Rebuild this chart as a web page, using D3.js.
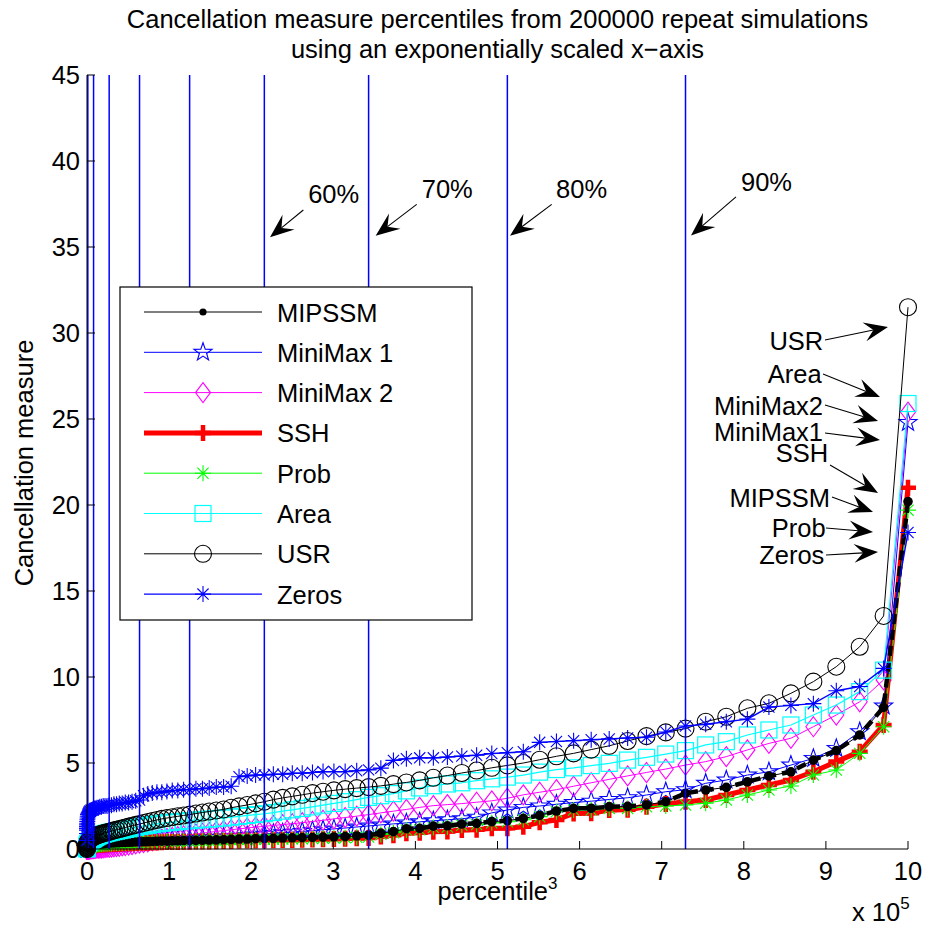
<!DOCTYPE html>
<html>
<head>
<meta charset="utf-8">
<script src="https://cdn.jsdelivr.net/npm/d3@7"></script>
<style>
  body { margin: 0; background: #fff; }
  svg { display: block; }
  text { font-family: "Liberation Sans", Arial, Helvetica, sans-serif; fill: #000; }
</style>
</head>
<body>
<svg id="chart" width="928" height="926"></svg>
<script>
// Percentile index 0..100; plotted against percentile^3 (in units of 10^5)
const percentiles = d3.range(0, 101);

const mipssm = [
  0, 0, 0.02, 0.04, 0.05, 0.07, 0.08, 0.1, 0.1, 0.12,
  0.13, 0.15, 0.15, 0.17, 0.18, 0.2, 0.2, 0.22, 0.23, 0.24,
  0.25, 0.26, 0.27, 0.28, 0.29, 0.3, 0.3, 0.31, 0.32, 0.33,
  0.34, 0.35, 0.35, 0.36, 0.37, 0.38, 0.38, 0.39, 0.4, 0.41,
  0.42, 0.42, 0.43, 0.44, 0.45, 0.46, 0.46, 0.47, 0.48, 0.49,
  0.5, 0.5, 0.51, 0.52, 0.53, 0.54, 0.56, 0.58, 0.58, 0.6,
  0.62, 0.62, 0.64, 0.65, 0.66, 0.67, 0.69, 0.7, 0.72, 0.76,
  0.8, 0.92, 1.01, 1.18, 1.2, 1.33, 1.35, 1.45, 1.49, 1.59,
  1.65, 1.78, 1.95, 2.21, 2.36, 2.37, 2.46, 2.47, 2.56, 2.75,
  3.24, 3.43, 3.58, 3.91, 4.24, 4.49, 5.17, 5.72, 6.63, 8.24, 20.2
];

const miniMax1 = [
  0, 0, 0, 0.01, 0.01, 0.02, 0.02, 0.03, 0.04, 0.05,
  0.06, 0.07, 0.08, 0.09, 0.1, 0.11, 0.12, 0.13, 0.14, 0.15,
  0.16, 0.17, 0.18, 0.19, 0.2, 0.21, 0.22, 0.23, 0.24, 0.25,
  0.26, 0.27, 0.28, 0.29, 0.3, 0.31, 0.32, 0.34, 0.36, 0.38,
  0.4, 0.42, 0.44, 0.46, 0.48, 0.5, 0.52, 0.54, 0.56, 0.58,
  0.6, 0.62, 0.64, 0.66, 0.68, 0.7, 0.72, 0.75, 0.78, 0.82,
  0.86, 0.9, 0.94, 0.98, 1.02, 1.07, 1.12, 1.17, 1.22, 1.28,
  1.34, 1.4, 1.46, 1.52, 1.58, 1.64, 1.7, 1.76, 1.85, 2.1,
  2.27, 2.42, 2.5, 2.6, 2.7, 2.78, 2.88, 2.98, 3.14, 3.33,
  3.45, 3.82, 4.01, 4.3, 4.49, 4.88, 5.27, 5.85, 6.82, 8.31, 24.8
];

const miniMax2 = [
  0, 0, 0, 0, 0, 0, 0, 0, 0, 0,
  0, 0, 0, 0, 0, 0.01, 0.01, 0.02, 0.02, 0.03,
  0.03, 0.04, 0.04, 0.05, 0.05, 0.06, 0.06, 0.07, 0.08, 0.09,
  0.1, 0.11, 0.12, 0.14, 0.16, 0.18, 0.2, 0.23, 0.26, 0.3,
  0.34, 0.38, 0.42, 0.47, 0.52, 0.57, 0.62, 0.67, 0.72, 0.77,
  0.82, 0.87, 0.92, 0.97, 1.02, 1.07, 1.12, 1.17, 1.22, 1.27,
  1.32, 1.37, 1.42, 1.47, 1.53, 1.6, 1.67, 1.75, 1.83, 1.91,
  2.0, 2.1, 2.2, 2.3, 2.42, 2.52, 2.58, 2.64, 2.72, 2.8,
  2.95, 3.15, 3.3, 3.45, 3.65, 3.85, 4.05, 4.25, 4.45, 4.65,
  4.88, 5.08, 5.37, 5.76, 6.14, 6.44, 7.11, 7.79, 8.56, 9.83, 25.4
];

const ssh = [
  0, 0, 0, 0.02, 0.03, 0.05, 0.06, 0.08, 0.08, 0.1,
  0.1, 0.12, 0.13, 0.14, 0.15, 0.16, 0.17, 0.18, 0.19, 0.2,
  0.2, 0.21, 0.22, 0.23, 0.24, 0.24, 0.25, 0.26, 0.27, 0.28,
  0.28, 0.29, 0.3, 0.31, 0.31, 0.32, 0.33, 0.34, 0.34, 0.35,
  0.36, 0.36, 0.37, 0.38, 0.38, 0.39, 0.4, 0.4, 0.41, 0.42,
  0.42, 0.43, 0.44, 0.44, 0.45, 0.46, 0.47, 0.48, 0.49, 0.5,
  0.5, 0.51, 0.52, 0.53, 0.54, 0.55, 0.57, 0.58, 0.6, 0.62,
  0.64, 0.72, 0.8, 0.91, 0.95, 1.01, 1.02, 1.1, 1.12, 1.2,
  1.2, 1.3, 1.55, 1.69, 2.07, 2.08, 2.27, 2.28, 2.46, 2.62,
  2.75, 2.85, 3.14, 3.43, 3.72, 4.01, 4.49, 5.08, 5.66, 7.21, 21.0
];

const prob = [
  0, 0.01, 0.02, 0.03, 0.05, 0.06, 0.07, 0.09, 0.1, 0.11,
  0.12, 0.13, 0.14, 0.16, 0.17, 0.18, 0.19, 0.2, 0.21, 0.22,
  0.23, 0.24, 0.25, 0.26, 0.27, 0.27, 0.28, 0.29, 0.3, 0.31,
  0.32, 0.32, 0.33, 0.34, 0.35, 0.35, 0.36, 0.37, 0.38, 0.38,
  0.39, 0.4, 0.41, 0.41, 0.42, 0.43, 0.44, 0.44, 0.45, 0.46,
  0.47, 0.47, 0.48, 0.49, 0.5, 0.51, 0.52, 0.53, 0.54, 0.55,
  0.56, 0.57, 0.58, 0.59, 0.6, 0.61, 0.62, 0.64, 0.66, 0.68,
  0.7, 0.85, 0.95, 1.1, 1.12, 1.25, 1.28, 1.38, 1.42, 1.52,
  1.58, 1.7, 1.88, 2.17, 2.27, 2.27, 2.36, 2.36, 2.46, 2.5,
  2.56, 2.66, 2.85, 3.14, 3.43, 3.66, 4.3, 4.59, 5.56, 7.11, 19.7
];

const area = [
  0, 0.03, 0.06, 0.09, 0.12, 0.15, 0.18, 0.21, 0.24, 0.27,
  0.3, 0.33, 0.36, 0.39, 0.42, 0.45, 0.48, 0.51, 0.54, 0.57,
  0.6, 0.64, 0.68, 0.72, 0.76, 0.8, 0.83, 0.86, 0.89, 0.92,
  0.95, 0.98, 1.01, 1.04, 1.07, 1.1, 1.14, 1.18, 1.22, 1.26,
  1.3, 1.34, 1.38, 1.42, 1.46, 1.5, 1.53, 1.56, 1.59, 1.62,
  1.65, 1.68, 1.71, 1.74, 1.77, 1.8, 1.85, 1.9, 1.95, 2.0,
  2.05, 2.12, 2.2, 2.28, 2.36, 2.45, 2.55, 2.65, 2.75, 2.87,
  3.0, 3.1, 3.22, 3.38, 3.55, 3.68, 3.78, 3.85, 3.97, 4.08,
  4.18, 4.3, 4.47, 4.62, 4.72, 4.85, 4.98, 5.17, 5.33, 5.52,
  5.72, 6.05, 6.24, 6.63, 6.92, 7.21, 7.79, 8.37, 9.15, 10.4, 25.9
];

const usr = [
  0, 0.05, 0.1, 0.14, 0.18, 0.22, 0.26, 0.3, 0.34, 0.37,
  0.4, 0.43, 0.46, 0.49, 0.52, 0.55, 0.58, 0.61, 0.64, 0.67,
  0.7, 0.73, 0.76, 0.79, 0.82, 0.85, 0.88, 0.91, 0.94, 0.97,
  1.0, 1.04, 1.08, 1.12, 1.16, 1.2, 1.25, 1.3, 1.35, 1.4,
  1.45, 1.51, 1.57, 1.63, 1.69, 1.75, 1.8, 1.85, 1.9, 1.95,
  2.0, 2.06, 2.12, 2.18, 2.24, 2.3, 2.4, 2.48, 2.56, 2.65,
  2.75, 2.87, 2.97, 3.06, 3.15, 3.25, 3.33, 3.41, 3.48, 3.54,
  3.6, 3.67, 3.77, 3.87, 3.99, 4.14, 4.27, 4.42, 4.56, 4.72,
  4.86, 5.0, 5.19, 5.39, 5.56, 5.78, 6.0, 6.28, 6.56, 6.78,
  7.0, 7.4, 7.69, 8.18, 8.47, 9.05, 9.73, 10.6, 11.76, 13.55, 31.5
];

const zeros = [
  0.5, 0.9, 1.1, 1.2, 1.3, 1.4, 1.5, 1.6, 1.7, 1.8,
  1.9, 2.0, 2.05, 2.1, 2.15, 2.2, 2.2, 2.25, 2.25, 2.3,
  2.3, 2.35, 2.35, 2.4, 2.4, 2.45, 2.45, 2.5, 2.5, 2.5,
  2.55, 2.55, 2.6, 2.6, 2.65, 2.65, 2.7, 2.7, 2.75, 2.8,
  2.85, 3.1, 3.2, 3.25, 3.3, 3.3, 3.35, 3.4, 3.4, 3.45,
  3.45, 3.5, 3.5, 3.55, 3.6, 3.6, 3.65, 4.2, 4.25, 4.3,
  4.3, 4.35, 4.35, 4.4, 4.4, 4.45, 4.5, 4.5, 4.5, 4.55,
  4.6, 4.7, 5.15, 5.25, 5.3, 5.3, 5.35, 5.4, 5.45, 5.55,
  5.6, 5.65, 6.2, 6.25, 6.3, 6.35, 6.4, 6.45, 6.5, 6.8,
  7.15, 7.25, 7.4, 7.55, 8.25, 8.35, 8.45, 9.2, 9.45, 10.5, 18.4
];

const xTicks = [0, 1, 2, 3, 4, 5, 6, 7, 8, 9, 10];
const yTicks = [0, 5, 10, 15, 20, 25, 30, 35, 40, 45];
// Percentile levels marked with vertical reference lines
const guidePercents = [10, 20, 30, 40, 50, 60, 70, 80, 90];

const titleLines = [
  "Cancellation measure percentiles from 200000 repeat simulations",
  "using an exponentially scaled x\u2212axis"
];

// Percent call-outs (data coordinates: text anchor, arrow tail, arrow tip)
const percentNotes = [
  { label: "60%", tx: 2.694, ty: 37.54, x0: 2.635, y0: 37.15, x1: 2.229, y1: 35.56 },
  { label: "70%", tx: 4.077, ty: 37.83, x0: 4.016, y0: 37.48, x1: 3.516, y1: 35.66 },
  { label: "80%", tx: 5.713, ty: 37.83, x0: 5.660, y0: 37.48, x1: 5.152, y1: 35.66 },
  { label: "90%", tx: 7.966, ty: 38.26, x0: 7.905, y0: 37.91, x1: 7.357, y1: 35.67 }
];

// Series call-outs near the 100th percentile (text right-aligned)
const seriesNotes = [
  { label: "USR",      tx: 8.968, ty: 28.99, x0: 8.989, y0: 29.59, x1: 9.756, y1: 30.35 },
  { label: "Area",     tx: 8.949, ty: 27.08, x0: 8.965, y0: 27.62, x1: 9.659, y1: 26.28 },
  { label: "MiniMax2", tx: 8.965, ty: 25.23, x0: 8.989, y0: 25.81, x1: 9.635, y1: 24.88 },
  { label: "MiniMax1", tx: 8.965, ty: 23.70, x0: 8.989, y0: 24.19, x1: 9.659, y1: 23.78 },
  { label: "SSH",      tx: 9.029, ty: 22.52, x0: 9.050, y0: 22.33, x1: 9.635, y1: 20.70 },
  { label: "MIPSSM",   tx: 9.050, ty: 19.90, x0: 9.074, y0: 20.47, x1: 9.574, y1: 19.59 },
  { label: "Prob",     tx: 8.998, ty: 18.16, x0: 9.001, y0: 18.66, x1: 9.574, y1: 18.43 },
  { label: "Zeros",    tx: 8.981, ty: 16.57, x0: 9.001, y0: 17.09, x1: 9.635, y1: 17.27 }
];

const series = [
  { name: "MIPSSM",    values: mipssm,   color: "#000000", width: 1,   marker: "dot" },
  { name: "MiniMax 1", values: miniMax1, color: "#0000ff", width: 1,   marker: "pentagram" },
  { name: "MiniMax 2", values: miniMax2, color: "#ff00ff", width: 1,   marker: "diamond" },
  { name: "SSH",       values: ssh,      color: "#ff0000", width: 5,   marker: "plus" },
  { name: "Prob",      values: prob,     color: "#00ff00", width: 1,   marker: "asterisk" },
  { name: "Area",      values: area,     color: "#00ffff", width: 1.2, marker: "square" },
  { name: "USR",       values: usr,      color: "#000000", width: 1,   marker: "circle" },
  { name: "Zeros",     values: zeros,    color: "#0000ff", width: 1.4, marker: "asterisk" }
];
// Stacking order of the plotted series (first drawn at the bottom)
const drawOrder = ["MiniMax 1", "MiniMax 2", "SSH", "Prob", "MIPSSM", "Area", "USR", "Zeros"];

const plot = { left: 87, right: 908, top: 75, bottom: 849 };
const FONT = 25.5;

const svg = d3.select("#chart");
const x = d3.scaleLinear().domain([0, 10]).range([plot.left, plot.right]);
const y = d3.scaleLinear().domain([0, 45]).range([plot.bottom, plot.top]);
const xOf = p => x(Math.pow(p, 3) / 1e5);

// ---- marker shapes ----
function starPath(ro, ri) {
  const pts = [];
  for (let i = 0; i < 10; i++) {
    const r = i % 2 === 0 ? ro : ri;
    const a = -Math.PI / 2 + i * Math.PI / 5;
    pts.push([r * Math.cos(a), r * Math.sin(a)]);
  }
  return "M" + pts.map(p => p[0].toFixed(2) + "," + p[1].toFixed(2)).join("L") + "Z";
}
function drawMarker(g, type, cx, cy, color, legend) {
  const t = `translate(${cx},${cy})`;
  switch (type) {
    case "dot":
      g.append("circle").attr("cx", cx).attr("cy", cy).attr("r", legend ? 3.6 : 4.8).attr("fill", color);
      break;
    case "pentagram":
      g.append("path").attr("transform", t).attr("d", starPath(9.5, 3.8))
        .attr("fill", "none").attr("stroke", color).attr("stroke-width", 1.1);
      break;
    case "diamond":
      g.append("path").attr("transform", t).attr("d", "M0,-10L7.5,0L0,10L-7.5,0Z")
        .attr("fill", "none").attr("stroke", color).attr("stroke-width", 1.1);
      break;
    case "plus":
      g.append("path").attr("transform", t).attr("d", "M-8,0H8M0,-8V8")
        .attr("fill", "none").attr("stroke", color).attr("stroke-width", 4.5);
      break;
    case "asterisk":
      g.append("path").attr("transform", t)
        .attr("d", "M-8,0H8M0,-8V8M-5.6,-5.6L5.6,5.6M-5.6,5.6L5.6,-5.6")
        .attr("fill", "none").attr("stroke", color).attr("stroke-width", 1.1);
      break;
    case "square":
      g.append("rect").attr("x", cx - 8).attr("y", cy - 8).attr("width", 16).attr("height", 16)
        .attr("fill", "none").attr("stroke", color).attr("stroke-width", 1.2);
      break;
    case "circle":
      g.append("circle").attr("cx", cx).attr("cy", cy).attr("r", 8.5)
        .attr("fill", "none").attr("stroke", color).attr("stroke-width", 1.1);
      break;
  }
}

// ---- series ----
const line = d3.line().x((d, i) => xOf(percentiles[i])).y(d => y(d));
const gData = svg.append("g");
drawOrder.forEach(name => {
  const s = series.find(d => d.name === name);
  const g = gData.append("g");
  g.append("path").datum(s.values).attr("d", line)
    .attr("fill", "none").attr("stroke", s.color).attr("stroke-width", s.width)
    .attr("stroke-linejoin", "round");
  if (s.name === "MIPSSM") {
    g.append("path").datum(s.values).attr("d", line)
      .attr("fill", "none").attr("stroke", "#000").attr("stroke-width", 4.5)
      .attr("stroke-dasharray", "10,6");
  }
  s.values.forEach((v, i) => drawMarker(g, s.marker, xOf(percentiles[i]), y(v), s.color, false));
});

// ---- vertical percentile guides ----
svg.append("g").selectAll("line").data(guidePercents).join("line")
  .attr("x1", d => xOf(d)).attr("x2", d => xOf(d))
  .attr("y1", y(0)).attr("y2", y(45))
  .attr("stroke", "#0000ff").attr("stroke-width", 1.5);

// ---- axes ----
const axes = svg.append("g").attr("stroke", "#000");
axes.append("line").attr("x1", plot.left).attr("x2", plot.left).attr("y1", plot.top).attr("y2", plot.bottom).attr("stroke-width", 1);
axes.append("line").attr("x1", plot.left).attr("x2", plot.right).attr("y1", plot.bottom).attr("y2", plot.bottom).attr("stroke-width", 1);
axes.selectAll(".yt").data(yTicks).join("line")
  .attr("x1", plot.left).attr("x2", plot.left + 8).attr("y1", d => y(d)).attr("y2", d => y(d));
axes.selectAll(".xt").data(xTicks).join("line")
  .attr("x1", d => x(d)).attr("x2", d => x(d)).attr("y1", plot.bottom).attr("y2", plot.bottom - 8);

svg.append("g").selectAll("text").data(yTicks).join("text")
  .attr("x", plot.left - 7).attr("y", d => y(d) + 9).attr("text-anchor", "end")
  .attr("font-size", FONT).text(d => d);
svg.append("g").selectAll("text").data(xTicks).join("text")
  .attr("x", d => x(d)).attr("y", plot.bottom + 31).attr("text-anchor", "middle")
  .attr("font-size", FONT).text(d => d);

// exponent note
const expo = svg.append("text").attr("x", 852).attr("y", 921).attr("font-size", FONT);
expo.append("tspan").text("x 10");
expo.append("tspan").attr("dy", -12).attr("font-size", 17).text("5");

// axis labels
const xl = svg.append("text").attr("x", (plot.left + plot.right) / 2).attr("y", 900)
  .attr("text-anchor", "middle").attr("font-size", FONT);
xl.append("tspan").text("percentile");
xl.append("tspan").attr("dy", -11).attr("font-size", 17).text("3");

svg.append("text").attr("transform", `translate(33,${(plot.top + plot.bottom) / 2 + 1}) rotate(-90)`)
  .attr("text-anchor", "middle").attr("font-size", FONT).text("Cancellation measure");

// title
svg.append("g").selectAll("text").data(titleLines).join("text")
  .attr("x", (plot.left + plot.right) / 2).attr("y", (d, i) => 28 + i * 29.5)
  .attr("text-anchor", "middle").attr("font-size", FONT).text(d => d);

// ---- legend ----
const leg = { x: 120, y: 287, w: 352, h: 333, row0: 312, step: 40.3 };
const gLeg = svg.append("g");
gLeg.append("rect").attr("x", leg.x).attr("y", leg.y).attr("width", leg.w).attr("height", leg.h)
  .attr("fill", "#fff").attr("stroke", "#000").attr("stroke-width", 1.2);
series.forEach((s, i) => {
  const cy = leg.row0 + i * leg.step;
  gLeg.append("line").attr("x1", 144).attr("x2", 262).attr("y1", cy).attr("y2", cy)
    .attr("stroke", s.color).attr("stroke-width", s.width);
  drawMarker(gLeg, s.marker, 203, cy, s.color, true);
  gLeg.append("text").attr("x", 277).attr("y", cy + 9.5).attr("font-size", FONT).text(s.name);
});

// ---- annotations ----
function arrow(g, a) {
  const X0 = x(a.x0), Y0 = y(a.y0), X1 = x(a.x1), Y1 = y(a.y1);
  const ang = Math.atan2(Y1 - Y0, X1 - X0);
  const L = 24, w = 9.5, back = 0.62;
  const ca = Math.cos(ang), sa = Math.sin(ang);
  const pt = (u, v) => [X1 + u * ca - v * sa, Y1 + u * sa + v * ca];
  g.append("line").attr("x1", X0).attr("y1", Y0)
    .attr("x2", pt(-L * back, 0)[0]).attr("y2", pt(-L * back, 0)[1])
    .attr("stroke", "#000").attr("stroke-width", 1.1);
  const poly = [pt(0, 0), pt(-L, w), pt(-L * back, 0), pt(-L, -w)];
  g.append("path").attr("d", "M" + poly.map(p => p.join(",")).join("L") + "Z").attr("fill", "#000");
}
const gAnn = svg.append("g");
percentNotes.forEach(a => {
  arrow(gAnn, a);
  gAnn.append("text").attr("x", x(a.tx)).attr("y", y(a.ty)).attr("font-size", FONT).text(a.label);
});
seriesNotes.forEach(a => {
  arrow(gAnn, a);
  gAnn.append("text").attr("x", x(a.tx)).attr("y", y(a.ty)).attr("text-anchor", "end")
    .attr("font-size", FONT).text(a.label);
});
</script>
</body>
</html>
